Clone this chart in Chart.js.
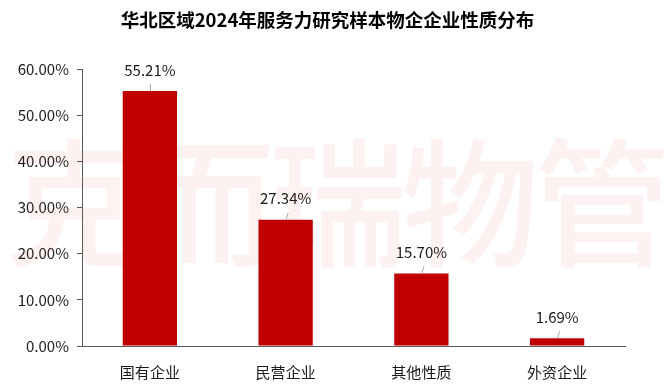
<!DOCTYPE html>
<html><head><meta charset="utf-8">
<script src="https://cdn.jsdelivr.net/npm/chart.js@4/dist/chart.umd.min.js"></script>
<style>html,body{margin:0;padding:0;background:#fff}#w{width:671px;height:386px}</style>
</head><body><div id="w"><canvas id="c"></canvas></div>
<script>
const title = '华北区域2024年服务力研究样本物企企业性质分布';
const categories = ['国有企业','民营企业','其他性质','外资企业'];
const values = [55.21, 27.34, 15.70, 1.69];
const yTicks = [0,10,20,30,40,50,60];
const watermark = '克而瑞物管';
const FONT = "'Noto Sans CJK SC', 'Noto Sans', sans-serif";

const wmPlugin = {
  id:'wm',
  beforeDatasetsDraw(chart){
    const ctx = chart.ctx;
    ctx.save();
    ctx.fillStyle = 'rgba(235,60,60,0.07)';
    ctx.font = "500 138px " + FONT;
    ctx.textBaseline = 'middle';
    ctx.textAlign = 'center';
    const chars = [...watermark];
    const x0 = 8, x1 = 668, step = (x1-x0)/chars.length;
    chars.forEach((ch,i)=>ctx.fillText(ch, x0 + step*(i+0.5), 203));
    ctx.restore();
  }
};
const titlePlugin = {
  id:'ttl',
  afterDraw(chart){
    const ctx = chart.ctx;
    ctx.save();
    ctx.fillStyle = '#000';
    ctx.font = "bold 18.5px " + FONT;
    ctx.textAlign = 'center';
    ctx.textBaseline = 'middle';
    ctx.fillText(title, 327.5, 20);
    ctx.restore();
  }
};
const labelPlugin = {
  id:'lbl',
  afterDatasetsDraw(chart){
    const ctx = chart.ctx;
    const meta = chart.getDatasetMeta(0);
    ctx.save();
    meta.data.forEach((bar,i)=>{
      const x = bar.x, y = bar.y;
      ctx.strokeStyle = '#a6a6a6';
      ctx.lineWidth = 1;
      ctx.beginPath();
      ctx.moveTo(x+0.5, y);
      ctx.lineTo(x+ (i===0?0.5:2.5), y-7);
      ctx.stroke();
      ctx.fillStyle = '#1a1a1a';
      ctx.font = "15px " + FONT;
      ctx.textAlign = 'center';
      ctx.textBaseline = 'middle';
      ctx.fillText(values[i].toFixed(2)+'%', x, y-21);
    });
    ctx.restore();
  }
};

new Chart(document.getElementById('c'), {
  type:'bar',
  data:{labels:categories, datasets:[{data:values, backgroundColor:'#C00000', categoryPercentage:1, barPercentage:0.4}]},
  plugins:[wmPlugin,labelPlugin,titlePlugin],
  options:{
    responsive:true, maintainAspectRatio:false, animation:false,
    layout:{padding:{left:11,right:46,top:69,bottom:0}},
    plugins:{
      legend:{display:false}, tooltip:{enabled:false}, title:{display:false}
    },
    scales:{
      x:{
        afterFit(axis){ axis.height = 40; },
        grid:{display:false},
        border:{display:true,color:'#595959',width:1},
        ticks:{color:'#1a1a1a', font:{family:FONT,size:15}, padding:9}
      },
      y:{
        min:0,max:60,
        afterFit(axis){ axis.width = 71; },
        afterBuildTicks(axis){ axis.ticks = yTicks.map(v=>({value:v})); },
        grid:{drawOnChartArea:false, drawTicks:true, tickLength:5, color:'#595959'},
        border:{display:true,color:'#595959',width:1},
        ticks:{color:'#1a1a1a', font:{family:FONT,size:15}, padding:8, callback:v=>v.toFixed(2)+'%'}
      }
    }
  }
});
</script></body></html>
